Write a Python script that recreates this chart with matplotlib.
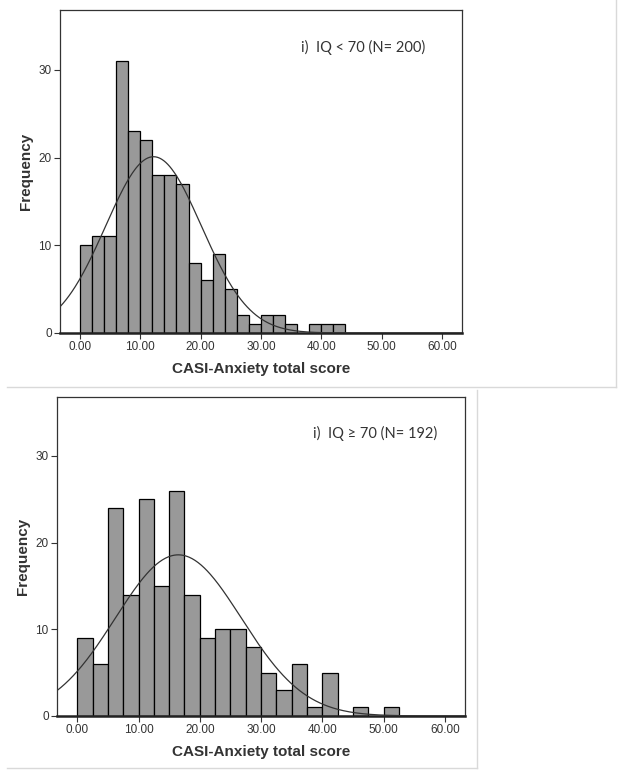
import numpy as np
import matplotlib.pyplot as plt
from matplotlib import font_manager
from matplotlib.lines import Line2D

# IQ < 70 group, bin width 2
low_edges = np.arange(0, 46, 2)
low_counts = [10, 11, 11, 31, 23, 22, 18, 18, 17, 8, 6, 9, 5, 2, 1, 2, 2, 1, 0, 1, 1, 1]
low_mean, low_sd = 12.2, 7.94
low_label = 'i)  IQ < 70 (N= 200)'

# IQ >= 70 group, bin width 2.5
high_edges = np.arange(0, 55, 2.5)
high_counts = [9, 6, 24, 14, 25, 15, 26, 14, 9, 10, 10, 8, 5, 3, 6, 1, 5, 0, 1, 0, 1]
high_mean, high_sd = 16.5, 10.3
high_label = 'i)  IQ \u2265 70 (N= 192)'

x_ticks = [0, 10, 20, 30, 40, 50, 60]
y_ticks = [0, 10, 20, 30]
x_label = 'CASI-Anxiety total score'
y_label = 'Frequency'

# narrow font for tick labels if there is one
names = {f.name for f in font_manager.fontManager.ttflist}
if 'Liberation Sans Narrow' in names:
    tick_font, tick_size = ['Liberation Sans Narrow', 'DejaVu Sans'], 10
else:
    tick_font, tick_size = ['Liberation Sans', 'DejaVu Sans'], 8.5
label_font = ['Liberation Sans', 'DejaVu Sans']
note_font = ['Lato', 'DejaVu Sans']


def histogram_panel(ax, edges, counts, mean, sd, note, note_x):
    edges = np.asarray(edges, dtype=float)
    width = edges[1] - edges[0]
    ax.bar(edges[:len(counts)], counts, width=width, align='edge',
           color='#999999', edgecolor='black', linewidth=0.9, zorder=2)

    # normal curve scaled to counts
    xlim = (-3.3, 63.3)
    xs = np.linspace(xlim[0], xlim[1], 400)
    n = sum(counts)
    ys = n * width / (sd * np.sqrt(2 * np.pi)) * np.exp(-0.5 * ((xs - mean) / sd) ** 2)
    ax.plot(xs, ys, color='#333333', linewidth=0.9, zorder=3)

    ax.set_xlim(xlim)
    ax.set_ylim(0, 36.8)
    ax.set_xticks(x_ticks)
    ax.set_xticklabels(['%.2f' % t for t in x_ticks], family=tick_font,
                       fontsize=tick_size, color='#333333')
    ax.set_yticks(y_ticks)
    ax.set_yticklabels([str(t) for t in y_ticks], family=tick_font,
                       fontsize=tick_size, color='#333333')
    ax.tick_params(axis='both', direction='out', length=4, width=0.8,
                   color='#333333', pad=2)
    for side in ['top', 'right', 'left']:
        ax.spines[side].set_linewidth(0.9)
        ax.spines[side].set_color('#333333')
    ax.spines['bottom'].set_linewidth(1.8)
    ax.spines['bottom'].set_color('#222222')

    ax.set_xlabel(x_label, family=label_font, fontweight='bold', fontsize=11,
                  color='#333333', labelpad=6)
    ax.set_ylabel(y_label, family=label_font, fontweight='bold', fontsize=11,
                  color='#333333', labelpad=4)
    ax.text(note_x, 0.885, note, transform=ax.transAxes, ha='right', va='center',
            family=note_font, fontsize=10.5, color='#333333')


fig = plt.figure(figsize=(6.2, 7.74), dpi=100)

ax_top = fig.add_axes([0.0968, 0.5698, 0.648, 0.417])
histogram_panel(ax_top, low_edges, low_counts, low_mean, low_sd, low_label, 0.908)

ax_bot = fig.add_axes([0.092, 0.075, 0.658, 0.412])
histogram_panel(ax_bot, high_edges, high_counts, high_mean, high_sd, high_label, 0.932)

# light grey panel borders from the source document
grey = '#d9d9d9'
fig.add_artist(Line2D([0.994, 0.994], [1.0, 0.5], transform=fig.transFigure, color=grey, lw=1))
fig.add_artist(Line2D([0.012, 0.994], [0.5, 0.5], transform=fig.transFigure, color=grey, lw=1))
fig.add_artist(Line2D([0.769, 0.769], [0.496, 0.008], transform=fig.transFigure, color=grey, lw=1))
fig.add_artist(Line2D([0.012, 0.769], [0.008, 0.008], transform=fig.transFigure, color=grey, lw=1))

fig.savefig('out.png', dpi=100)
